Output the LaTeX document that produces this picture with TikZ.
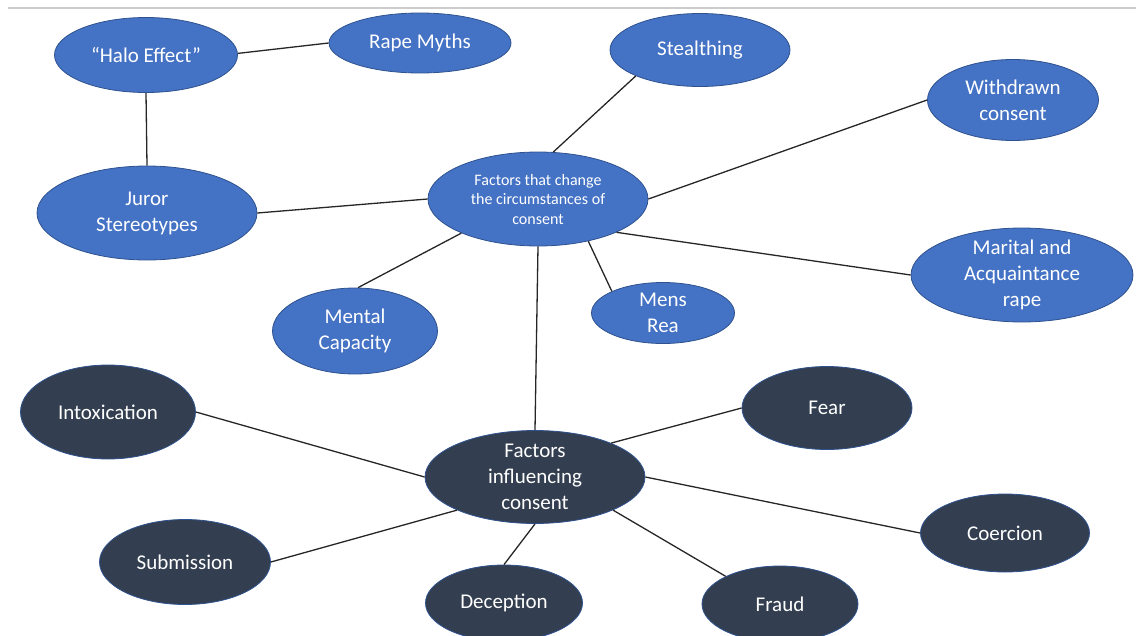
\documentclass[tikz,border=0pt]{standalone}
\usepackage{fontspec}
\setmainfont{Carlito}
\usetikzlibrary{shapes.geometric}
\definecolor{topicblue}{HTML}{4472C4}
\definecolor{topicdark}{HTML}{333F50}
\definecolor{topicrim}{HTML}{2F528F}

\begin{document}
\begin{tikzpicture}[x=1pt, y=-1pt,
    topic/.style={ellipse, draw=topicrim, line width=0.8pt, fill=topicblue, text=white, align=center, inner sep=-8pt, font=\fontsize{21}{26}\selectfont},
    factor/.style={topic, fill=topicdark},
    link/.style={line width=1.3pt, black!85}
]
\useasboundingbox (0,0) rectangle (1136,635);
\draw[black!20, line width=1.5pt] (8,8) -- (1136,8);

% upper map
\node[topic, minimum width=183pt, minimum height=75pt] (halo) at (146,55) {“Halo Effect”};
\node[topic, minimum width=182pt, minimum height=60pt] (myths) at (420,43) {Rape Myths};
\node[topic, minimum width=180pt, minimum height=73pt] (stealth) at (700,50) {Stealthing};
\node[topic, minimum width=171pt, minimum height=81pt] (withdrawn) at (1013,100) {Withdrawn\\consent};
\node[topic, minimum width=220pt, minimum height=94pt] (juror) at (147,213) {Juror\\Stereotypes};
\node[topic, minimum width=220pt, minimum height=94pt, font=\fontsize{16}{19.5}\selectfont] (change) at (538,199) {Factors that change\\the circumstances of\\consent};
\node[topic, minimum width=222pt, minimum height=94pt] (marital) at (1022,275) {Marital and\\Acquaintance\\rape};
\node[topic, minimum width=165pt, minimum height=86pt] (mental) at (355,331) {Mental\\Capacity};
\node[topic, minimum width=143pt, minimum height=61pt] (mens) at (663,313) {Mens\\Rea};

% lower map
\node[factor, minimum width=175pt, minimum height=94pt] (intox) at (108,412) {Intoxication};
\node[factor, minimum width=220pt, minimum height=93pt] (influence) at (535,477) {Factors\\influencing\\consent};
\node[factor, minimum width=170pt, minimum height=83pt] (fear) at (827,408) {Fear};
\node[factor, minimum width=169pt, minimum height=78pt] (coercion) at (1005,533) {Coercion};
\node[factor, minimum width=171pt, minimum height=85pt] (submission) at (185,562) {Submission};
\node[factor, minimum width=157pt, minimum height=76pt] (deception) at (504,603) {Deception};
\node[factor, minimum width=156pt, minimum height=76pt] (fraud) at (780,604) {Fraud};

\draw[link] (halo.1) -- (myths.180);
\draw[link] (halo.-90) -- (juror.90);
\draw[link] (juror.0) -- (change.180);
\draw[link] (change.72) -- (stealth.202);
\draw[link] (change.0) -- (withdrawn.180);
\draw[link] (change.-23) -- (marital.180);
\draw[link] (change.-40) -- (mens.157);
\draw[link] (change.204) -- (mental.86);
\draw[link] (change.-90) -- (influence.90);
\draw[link] (influence.180) -- (intox.0);
\draw[link] (influence.203) -- (submission.0);
\draw[link] (influence.-90) -- (deception.90);
\draw[link] (influence.-23) -- (fraud.153);
\draw[link] (influence.24) -- (fear.180);
\draw[link] (influence.0) -- (coercion.180);
\end{tikzpicture}
\end{document}
